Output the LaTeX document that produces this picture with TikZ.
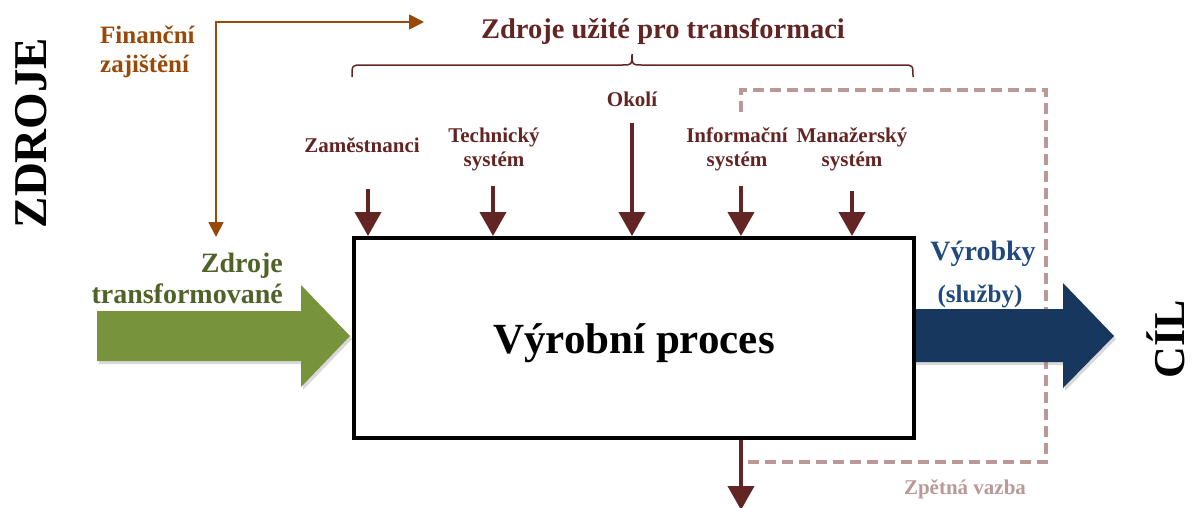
\documentclass[tikz,border=0pt]{standalone}
\usepackage{fontspec}
\setmainfont{Liberation Serif}
\usetikzlibrary{arrows.meta,shadows}
\definecolor{maroon}{HTML}{632523}
\definecolor{finorange}{HTML}{984807}
\definecolor{greenfill}{HTML}{77933C}
\definecolor{greentext}{HTML}{4F6228}
\definecolor{bluefill}{HTML}{17375E}
\definecolor{bluetext}{HTML}{1F497D}
\definecolor{fbcol}{RGB}{187,152,152}
\tikzset{
  lbl/.style={inner sep=0pt, text=maroon, align=center, font=\bfseries\fontsize{21}{24}\selectfont},
  inarrow/.style={draw=maroon, line width=4pt, -{Triangle[width=26pt,length=24pt]}},
  finarrow/.style={draw=finorange, line width=1.8pt, {Triangle[width=15pt,length=15pt]}-{Triangle[width=15pt,length=15pt]}},
  fbline/.style={draw=fbcol, line width=3.5pt, dash pattern=on 11pt off 6pt},
  bigarrowshadow/.style={drop shadow={opacity=0.3, shadow xshift=2pt, shadow yshift=-3pt}},
  mainbox/.style={draw=black, fill=white, line width=4pt, minimum width=560pt, minimum height=200pt,
    inner sep=0pt, text height=30pt, text depth=0pt, font=\bfseries\fontsize{43}{48}\selectfont,
    drop shadow={opacity=0.3, shadow xshift=2pt, shadow yshift=-2pt}},
  bigword/.style={inner sep=0pt, rotate=90, font=\bfseries\fontsize{47}{50}\selectfont}
}
\begin{document}
\begin{tikzpicture}[x=1pt,y=-1pt]
\useasboundingbox (0,0) rectangle (1194,507);

% side words
\node[bigword] (zdroje) at (31,133) {ZDROJE};
\node[bigword, font=\bfseries\fontsize{44}{48}\selectfont] (cil) at (1166,339) {CÍL};

% title and brace
\node[lbl, anchor=base, font=\bfseries\fontsize{28.5}{32}\selectfont] (title) at (663,38) {Zdroje užité pro transformaci};
\draw[maroon, line width=1.5pt] (352,77) .. controls (352,65) .. (362,65) -- (622,65)
  .. controls (632,65) .. (632,54) .. controls (632,65) .. (642,65) -- (903,65)
  .. controls (913,65) .. (913,77);

% financial
\node[inner sep=0pt, anchor=west, align=left, text=finorange, font=\bfseries\fontsize{25}{29}\selectfont] (fin) at (100,52) {Finanční\\zajištění};
\coordinate (f1) at (216,237);
\coordinate (f2) at (216,22);
\coordinate (f3) at (424,22);
\draw[finarrow] (f1) -- (f2) -- (f3);

% feedback dashed line (behind)
\coordinate (ia) at (741,186);
\coordinate (fbtop) at (741,112);
\coordinate (fbc1) at (741,90);
\coordinate (fbc2) at (1046,90);
\coordinate (fbc3) at (1046,462);
\coordinate (fbc4) at (741,462);
\draw[fbline] (fbtop) -- (fbc1) -- (fbc2) -- (fbc3) -- (fbc4);
\node[inner sep=0pt, anchor=base, text=fbcol, font=\bfseries\fontsize{21}{24}\selectfont] (fb) at (965,494) {Zpětná vazba};

% green input arrow
\fill[greenfill, bigarrowshadow] (97,311) -- (301,311) -- (301,285) -- (350,336) -- (301,387) -- (301,361) -- (97,361) -- cycle;
\node[inner sep=0pt, anchor=east, align=right, text=greentext, font=\bfseries\fontsize{28}{31}\selectfont] (zt) at (283,278) {Zdroje\\transformované};

% blue output arrow
\fill[bluefill, bigarrowshadow] (910,309) -- (1063,309) -- (1063,283) -- (1114,336) -- (1063,388) -- (1063,362) -- (910,362) -- cycle;
\node[inner sep=0pt, anchor=base, text=bluetext, font=\bfseries\fontsize{28}{31}\selectfont] (vyr) at (983,260) {Výrobky};
\node[inner sep=0pt, anchor=base, text=bluetext, font=\bfseries\fontsize{25}{28}\selectfont] (sluz) at (980,302) {(služby)};

% main box
\node[mainbox] (box) at (634,338) {Výrobní proces};

% top labels
\node[lbl, anchor=base] (zam) at (362,152) {Zaměstnanci};
\node[lbl] (tech) at (494,149) {Technický\\systém};
\node[lbl, anchor=base] (okoli) at (632,106) {Okolí};
\node[lbl] (info) at (737,149) {Informační\\systém};
\node[lbl] (man) at (852,149) {Manažerský\\systém};

% input arrows
\coordinate (a1) at (368,189);
\coordinate (a2) at (493,186);
\coordinate (a3) at (632,123);
\coordinate (a5) at (852,191);
\draw[inarrow] (a1) -- (a1 |- box.north);
\draw[inarrow] (a2) -- (a2 |- box.north);
\draw[inarrow] (a3) -- (a3 |- box.north);
\draw[inarrow] (ia) -- (ia |- box.north);
\draw[inarrow] (a5) -- (a5 |- box.north);

% output arrow down
\coordinate (outend) at (741,510);
\draw[inarrow] (ia |- box.south) -- (outend);
\end{tikzpicture}
\end{document}
